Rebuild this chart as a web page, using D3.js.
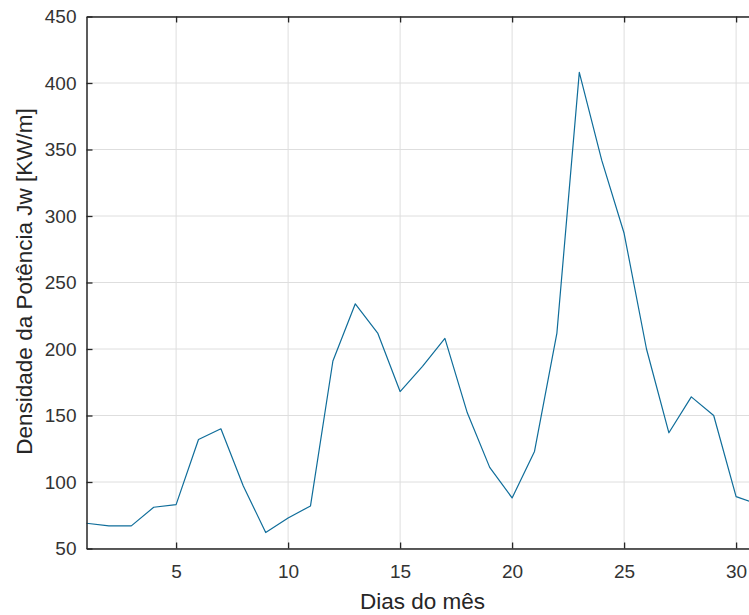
<!DOCTYPE html>
<html>
<head>
<meta charset="utf-8">
<script src="https://cdn.jsdelivr.net/npm/d3@7"></script>
<style>
  body { margin: 0; background: #fff; }
  text { font-family: "Liberation Sans", Arial, sans-serif; }
</style>
</head>
<body>
<div id="chart"></div>
<script>
const width = 749;
const height = 615;

// data
const days = d3.range(1, 32);
const density = [69, 67, 67, 81, 83, 132, 140, 97, 62, 73, 82, 191, 234, 212, 168,
  187, 208, 152, 111, 88, 123, 212, 408, 342, 287, 200, 137, 164, 150, 89, 83];
const xTicks = [5, 10, 15, 20, 25, 30];
const yTicks = [50, 100, 150, 200, 250, 300, 350, 400, 450];

const plotLeft = 86.5, plotRight = 758.5, plotTop = 16.5, plotBottom = 548.5;
const axisColor = "#262626";

const svg = d3.select("#chart")
  .append("svg")
  .attr("width", width)
  .attr("height", height);

const x = d3.scaleLinear().domain([1, 31]).range([plotLeft, plotRight]);
const y = d3.scaleLinear().domain([50, 450]).range([plotBottom, plotTop]);

// grid
svg.append("g")
  .selectAll("line.vgrid")
  .data(xTicks)
  .enter()
  .append("line")
  .attr("x1", d => x(d)).attr("x2", d => x(d))
  .attr("y1", plotTop).attr("y2", plotBottom)
  .attr("stroke", "#dedede")
  .attr("stroke-width", 1);

svg.append("g")
  .selectAll("line.hgrid")
  .data(yTicks)
  .enter()
  .append("line")
  .attr("x1", plotLeft).attr("x2", plotRight)
  .attr("y1", d => y(d)).attr("y2", d => y(d))
  .attr("stroke", "#dedede")
  .attr("stroke-width", 1);

// line
const line = d3.line()
  .x((d, i) => x(days[i]))
  .y(d => y(d));

svg.append("path")
  .datum(density)
  .attr("fill", "none")
  .attr("stroke", "#0f6d9a")
  .attr("stroke-width", 1.2)
  .attr("stroke-linejoin", "round")
  .attr("d", line);

// axes (ticks inward, like matlab)
function styleAxis(g) {
  g.select(".domain").attr("stroke", axisColor).attr("stroke-width", 1.5);
  g.selectAll(".tick line").attr("stroke", axisColor).attr("stroke-width", 1.3);
  g.selectAll(".tick text")
    .attr("fill", "#333")
    .style("font-size", "19px");
}

svg.append("g")
  .attr("transform", `translate(0,${plotBottom})`)
  .call(d3.axisBottom(x).tickValues(xTicks).tickSizeInner(-6).tickSizeOuter(0).tickPadding(16))
  .call(styleAxis);

svg.append("g")
  .attr("transform", `translate(0,${plotTop})`)
  .call(d3.axisTop(x).tickValues(xTicks).tickSizeInner(-6).tickSizeOuter(0).tickFormat(""))
  .call(styleAxis);

svg.append("g")
  .attr("transform", `translate(${plotLeft},0)`)
  .call(d3.axisLeft(y).tickValues(yTicks).tickSizeInner(-6).tickSizeOuter(0).tickPadding(10))
  .call(styleAxis);

// axis labels
svg.append("text")
  .attr("x", (plotLeft + plotRight) / 2)
  .attr("y", 608.5)
  .attr("text-anchor", "middle")
  .attr("fill", "#262626")
  .style("font-size", "22.5px")
  .text("Dias do mês");

svg.append("text")
  .attr("transform", `translate(32,${(108 + 455) / 2}) rotate(-90)`)
  .attr("text-anchor", "middle")
  .attr("fill", "#262626")
  .style("font-size", "22.5px")
  .text("Densidade da Potência Jw [KW/m]");
</script>
</body>
</html>
